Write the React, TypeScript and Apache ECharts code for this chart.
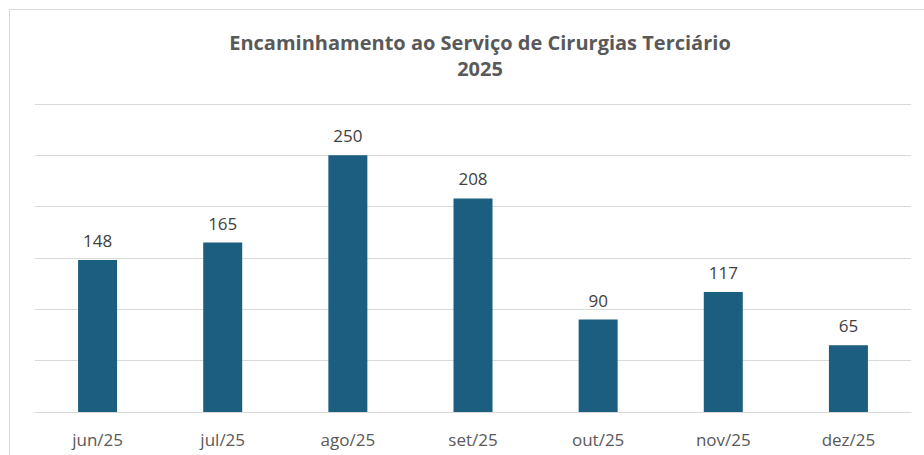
import React, { useEffect, useRef } from "react";
import * as echarts from "echarts";

const categories = ["jun/25", "jul/25", "ago/25", "set/25", "out/25", "nov/25", "dez/25"];
const values = [148, 165, 250, 208, 90, 117, 65];
const titleLines = ["Encaminhamento ao Serviço de Cirurgias Terciário", "2025"];

export default function App() {
  const ref = useRef<HTMLDivElement>(null);
  useEffect(() => {
    if (!ref.current) return;
    const chart = echarts.init(ref.current, null, { renderer: "svg" });
    chart.setOption({
      animation: false,
      backgroundColor: "#ffffff",
      textStyle: { fontFamily: "Open Sans" },
      title: {
        text: titleLines.join("\n"),
        left: 475,
        textAlign: "center",
        top: 24,
        textStyle: {
          fontFamily: "Open Sans",
          fontSize: 20,
          fontWeight: "bold",
          color: "#595959",
          lineHeight: 26,
        },
      },
      graphic: [
        {
          type: "rect",
          shape: { x: 9.5, y: 9.5, width: 940, height: 460 },
          style: { fill: "none", stroke: "#d9d9d9", lineWidth: 1 },
          silent: true,
        },
      ],
      grid: { left: 35, right: 13, top: 104, bottom: 43 },
      xAxis: {
        type: "category",
        data: categories,
        axisTick: { show: false },
        axisLine: { lineStyle: { color: "#d9d9d9" } },
        axisLabel: { color: "#595959", fontSize: 17, margin: 19, fontFamily: "Open Sans" },
      },
      yAxis: {
        type: "value",
        min: 0,
        max: 300,
        interval: 50,
        axisLabel: { show: false },
        axisLine: { show: false },
        axisTick: { show: false },
        splitLine: { lineStyle: { color: "#d9d9d9" } },
      },
      series: [
        {
          type: "bar",
          data: values,
          barWidth: 39,
          itemStyle: { color: "#1b5e80" },
          label: {
            show: true,
            position: "top",
            distance: 11,
            color: "#404040",
            fontSize: 17,
            fontFamily: "Open Sans",
          },
        },
      ],
    });
    return () => chart.dispose();
  }, []);
  return (
    <div
      ref={ref}
      style={{ position: "fixed", left: 0, top: 0, width: 924, height: 455 }}
    />
  );
}
